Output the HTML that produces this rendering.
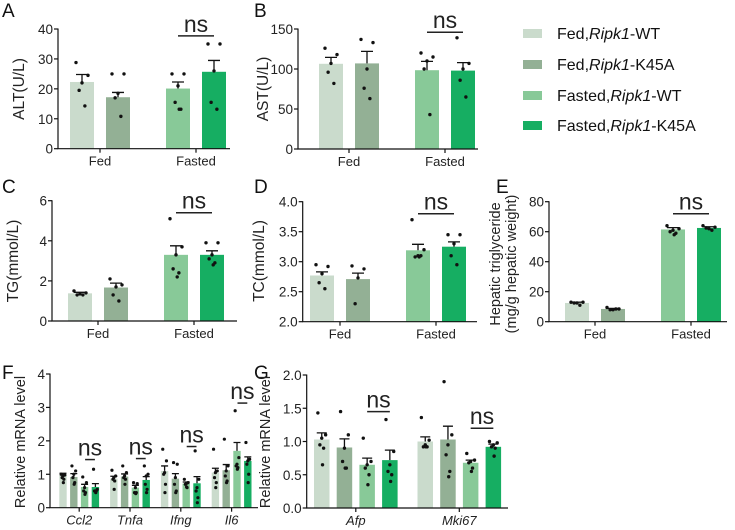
<!DOCTYPE html>
<html><head><meta charset="utf-8">
<style>
html,body{margin:0;padding:0;background:#fff;}
svg{display:block;font-family:"Liberation Sans",Arial,sans-serif;}
</style></head>
<body>
<svg id="fig" width="735" height="530" viewBox="0 0 735 530" xmlns="http://www.w3.org/2000/svg">
  <g font-size="19" fill="#111">
    <text x="2" y="17">A</text>
    <text x="254" y="17">B</text>
    <text x="2" y="193">C</text>
    <text x="254" y="193">D</text>
    <text x="496" y="193">E</text>
    <text x="2" y="379">F</text>
    <text x="254" y="379">G</text>
  </g>
  <g font-size="16" fill="#111">
    <rect x="523" y="29" width="19" height="9" fill="#cadbcc"/>
    <text x="557" y="39">Fed,<tspan font-style="italic">Ripk1</tspan>-WT</text>
    <rect x="523" y="60" width="19" height="9" fill="#93b095"/>
    <text x="557" y="70">Fed,<tspan font-style="italic">Ripk1</tspan>-K45A</text>
    <rect x="523" y="91" width="19" height="9" fill="#88c998"/>
    <text x="557" y="101">Fasted,<tspan font-style="italic">Ripk1</tspan>-WT</text>
    <rect x="523" y="121" width="19" height="9" fill="#16ae62"/>
    <text x="557" y="131">Fasted,<tspan font-style="italic">Ripk1</tspan>-K45A</text>
  </g>
</svg>
<script>
// ---------- data ----------
const groupLabels2 = ["Fed", "Fasted"];
const geneLabelsF = ["Ccl2", "Tnfa", "Ifng", "Il6"];
const geneLabelsG = ["Afp", "Mki67"];

const aMeans = [[22.3, 17.2], [20.1, 25.7]];
const aSems = [[2.5, 1.6], [2.2, 3.8]];
const aPts = [[[28.8,24.5,22,19.5,14.3],[25,25,18.5,17,10.8]],[[25,25,21,15.5,13.2,13.2],[35,35,26,15.5,13.2]]];
const aTicks = [0,10,20,30,40];

const bMeans = [[106.5, 107], [98.5, 98]];
const bSems = [[8, 15], [11, 10]];
const bPts = [[[126,118,107,96,82],[137,133,100,76,63]],[[120,115,110,100,43],[139,107,100,86,65]]];
const bTicks = [0,50,100,150];

const cMeans = [[1.38, 1.67], [3.3, 3.3]];
const cSems = [[0.05, 0.22], [0.45, 0.2]];
const cPts = [[[1.5,1.4,1.35,1.3,1.3],[2.1,1.8,1.7,1.3,1.0]],[[5.1,3.7,3.3,2.6,2.4,2.2],[3.9,3.9,3.3,3.1,2.9,2.8]]];
const cTicks = [0,2,4,6];

const dMeans = [[2.77, 2.71], [3.19, 3.25]];
const dSems = [[0.06, 0.1], [0.1, 0.08]];
const dPts = [[[2.95,2.92,2.8,2.65,2.55],[2.93,2.88,2.73,2.3]],[[3.7,3.2,3.1,3.08,3.1,3.08],[3.45,3.45,3.3,3.1,2.95]]];
const dTicks = [2.0,2.5,3.0,3.5,4.0];

const eMeans = [[12.5, 8.5], [61.5, 62.5]];
const eSems = [[0.5, 0.4], [1.2, 0.8]];
const ePts = [[[13,13,12.5,12.5,11],[9.5,8.5,8,8,8.5]],[[64,62,61,60,59,58],[64,63,62,62.5,61]]];
const eTicks = [0,20,40,60,80];

const fMeans = [[0.98,0.92,0.62,0.62],[0.87,0.93,0.6,0.83],[1.1,0.87,0.72,0.73],[1.05,1.12,1.7,1.4]];
const fSems = [[0.05,0.1,0.08,0.1],[0.07,0.08,0.07,0.1],[0.15,0.15,0.05,0.2],[0.13,0.17,0.25,0.12]];
const fPts = [
 [[1.0,0.98,0.95,0.9,0.85,0.75],[1.25,1.1,1.0,0.9,0.75,0.7],[0.92,0.75,0.6,0.5,0.45,0.4],[1.15,0.55,0.5,0.5,0.5,0.45]],
 [[1.12,0.95,0.9,0.85,0.8,0.55],[1.25,1.05,0.95,0.9,0.85,0.7],[0.75,0.72,0.6,0.45,0.45,0.42],[1.25,1.0,0.95,0.7,0.55,0.45]],
 [[1.75,1.4,1.05,1.0,0.7,0.45],[1.35,1.3,0.9,0.7,0.5,0.45],[0.85,0.75,0.72,0.7,0.6,0.62],[1.7,0.85,0.6,0.5,0.3,0.15]],
 [[1.75,1.1,1.05,0.9,0.75,0.6],[2.05,1.25,1.1,0.95,0.8,0.75],[2.9,1.5,1.3,1.25,1.2,1.15],[1.95,1.45,1.4,1.3,1.0,0.75]]
];
const fTicks = [0,1,2,3,4];

const gMeans = [[1.03,0.91,0.65,0.72],[1.0,1.03,0.68,0.92]];
const gSems = [[0.1,0.13,0.1,0.15],[0.07,0.2,0.04,0.04]];
const gPts = [
 [[1.43,1.1,1.05,0.95,0.9,0.65],[1.45,1.1,0.9,0.7,0.6,0.6],[1.05,0.7,0.65,0.6,0.5,0.35],[1.33,0.85,0.65,0.55,0.5,0.4]],
 [[1.36,1.02,0.95,0.92,0.92,0.92],[1.9,1.1,0.95,0.8,0.55,0.47],[0.82,0.72,0.7,0.68,0.6,0.55],[1.0,0.98,0.95,0.92,0.9,0.78]]
];
const gTicks = ["0.0","0.5","1.0","1.5","2.0"];

const aNs = [37.7];
const bNs = [146];
const cNs = [5.4];
const dNs = [3.8];
const eNs = [72];
const fNs = [1.44, 1.47, 1.83, 3.13];
const gNs = [1.45, 1.2];

// ---------- drawing ----------
const colors = ["#cadbcc","#93b095","#88c998","#16ae62"];
const jit = [-0.25,0.25,0,-0.12,0.12,0.05];
const NS = "http://www.w3.org/2000/svg";
const svg = document.getElementById('fig');
function mk(tag, attrs, parent){
  const e = document.createElementNS(NS, tag);
  for (const k in attrs) e.setAttribute(k, attrs[k]);
  (parent||svg).appendChild(e);
  return e;
}

function drawPanel(cfg, means, sems, pts, ticks, labels, nsVals){
  const g = mk('g', {});
  
  
  const ymin = parseFloat(ticks[0]), ymax = parseFloat(ticks[ticks.length-1]);
  const Y = v => cfg.y0 - (v - ymin) / (ymax - ymin) * (cfg.y0 - cfg.y1);
  means.forEach((grp, gi) => {
    grp.forEach((m, bi) => {
      const ci = cfg.colorMap ? cfg.colorMap(gi, bi) : bi;
      const x = cfg.bx + gi * cfg.gp + bi * cfg.bp;
      const r = mk('rect', {x: x, y: Y(m), width: cfg.bw, height: cfg.y0 - Y(m), fill: colors[ci]}, g);
      
      
      const cx = x + cfg.bw / 2;
      const top = Y(m + sems[gi][bi]);
      const eb = mk('path', {d: `M${cx},${Y(m)}V${top}M${cx-cfg.cap},${top}H${cx+cfg.cap}`, stroke: '#111', 'stroke-width': 1.3, fill: 'none'}, g);
      
      
      pts[gi][bi].forEach((p, pi) => {
        const d = mk('circle', {cx: cx + jit[pi % jit.length] * cfg.bw, cy: Y(p), r: cfg.pr, fill: '#111'}, g);
        
        
      });
    });
  });
  const ax = mk('path', {d: `M${cfg.ax},${cfg.y1 - 0.5}V${cfg.y0}H${cfg.xe}`, stroke: '#111', 'stroke-width': 1.2, fill: 'none'}, g);
  
  
  ticks.forEach(t => {
    const ty = Y(parseFloat(t));
    mk('line', {x1: cfg.ax - 4, x2: cfg.ax, y1: ty, y2: ty, stroke: '#111', 'stroke-width': 1.2}, g);
    const tl = mk('text', {x: cfg.ax - 5, y: ty + 5, 'text-anchor': 'end', 'font-size': 13.5, fill: '#222'}, g);
    tl.textContent = t;
    
    
  });
  const nb = means[0].length;
  means.forEach((grp, gi) => {
    const cx = cfg.bx + gi * cfg.gp + ((nb - 1) * cfg.bp + cfg.bw) / 2;
    mk('line', {x1: cx, x2: cx, y1: cfg.y0, y2: cfg.y0 + 4, stroke: '#111', 'stroke-width': 1.2}, g);
    const cl = mk('text', {x: cx, y: cfg.y0 + 17, 'text-anchor': 'middle', 'font-size': 13, fill: '#222'}, g);
    if (cfg.italic) cl.setAttribute('font-style', 'italic');
    cl.textContent = labels[gi];
    
    
    if (nsVals[gi] !== undefined) {
      const x3 = cfg.bx + gi * cfg.gp + (nb - 2) * cfg.bp + cfg.bw * 0.5 + cfg.nsIn;
      const x4 = cfg.bx + gi * cfg.gp + (nb - 1) * cfg.bp + cfg.bw * 0.5 - cfg.nsIn;
      const ly = Y(nsVals[gi]);
      const nl = mk('line', {x1: x3, x2: x4, y1: ly, y2: ly, stroke: '#222', 'stroke-width': 1.5}, g);
      
      
      const nt = mk('text', {x: (x3 + x4) / 2, y: ly - 4, 'text-anchor': 'middle', 'font-size': cfg.nsSize, fill: '#222'}, g);
      nt.textContent = 'ns';
      
      
    }
  });
  cfg.ytitle.forEach((t, i) => {
    const tx = cfg.ytx + i * 16;
    const yt = mk('text', {x: tx, y: cfg.yty, 'text-anchor': 'middle', 'font-size': cfg.yfs || 15.5, fill: '#222', transform: `rotate(-90 ${tx} ${cfg.yty})`}, g);
    yt.textContent = t;
    
    
  });
}

function twoGroup(cfg, M, S, P, T, ns){
  cfg.colorMap = (gi, bi) => gi * 2 + bi;
  drawPanel(cfg, M, S, P, T, groupLabels2, [undefined, ns[0]]);
}

const big = {bw: 24, bp: 36, gp: 96, cap: 6, pr: 1.7, nsIn: 0, nsSize: 23};
twoGroup(Object.assign({name:'panel-a-alt', ax:58, xe:230, y0:148.7, y1:29, bx:70, ytx:24, yty:89, ytitle:['ALT(U/L)']}, big), aMeans, aSems, aPts, aTicks, aNs);
twoGroup(Object.assign({name:'panel-b-ast', ax:298, xe:478, y0:149, y1:29, bx:319, ytx:268, yty:89, ytitle:['AST(U/L)']}, big), bMeans, bSems, bPts, bTicks, bNs);
twoGroup(Object.assign({name:'panel-c-tg', ax:52, xe:237, y0:321, y1:200.7, bx:68, ytx:18, yty:261, ytitle:['TG(mmol/L)']}, big), cMeans, cSems, cPts, cTicks, cNs);
twoGroup(Object.assign({name:'panel-d-tc', ax:302.7, xe:477, y0:321.7, y1:201.7, bx:310, ytx:264, yty:261, ytitle:['TC(mmol/L)']}, big), dMeans, dSems, dPts, dTicks.map(v=>v.toFixed(1)), dNs);
twoGroup(Object.assign({name:'panel-e-hepatic-tg', ax:549, xe:727, y0:321.7, y1:201.7, bx:565, ytx:500, yty:264, yfs:14.5, ytitle:['Hepatic triglyceride','(mg/g hepatic weight)']}, big), eMeans, eSems, ePts, eTicks, eNs);

drawPanel({name:'panel-f-inflammation-mrna', ax:50, xe:258, y0:507.7, y1:374, bx:59.3, bw:7.4, bp:10.8, gp:50.8, cap:3.5, pr:1.6, nsIn:0.5, nsSize:23, italic:true, ytx:25, yty:442, yfs:14.5, ytitle:['Relative mRNA level']}, fMeans, fSems, fPts, fTicks, geneLabelsF, fNs);
drawPanel({name:'panel-g-proliferation-mrna', ax:306.7, xe:508, y0:508, y1:375, bx:314, bw:15.5, bp:22.7, gp:103.5, cap:5, pr:1.7, nsIn:0, nsSize:23, italic:true, ytx:270, yty:442, yfs:14.5, ytitle:['Relative mRNA level']}, gMeans, gSems, gPts, gTicks, geneLabelsG, gNs);
</script>
</body></html>
